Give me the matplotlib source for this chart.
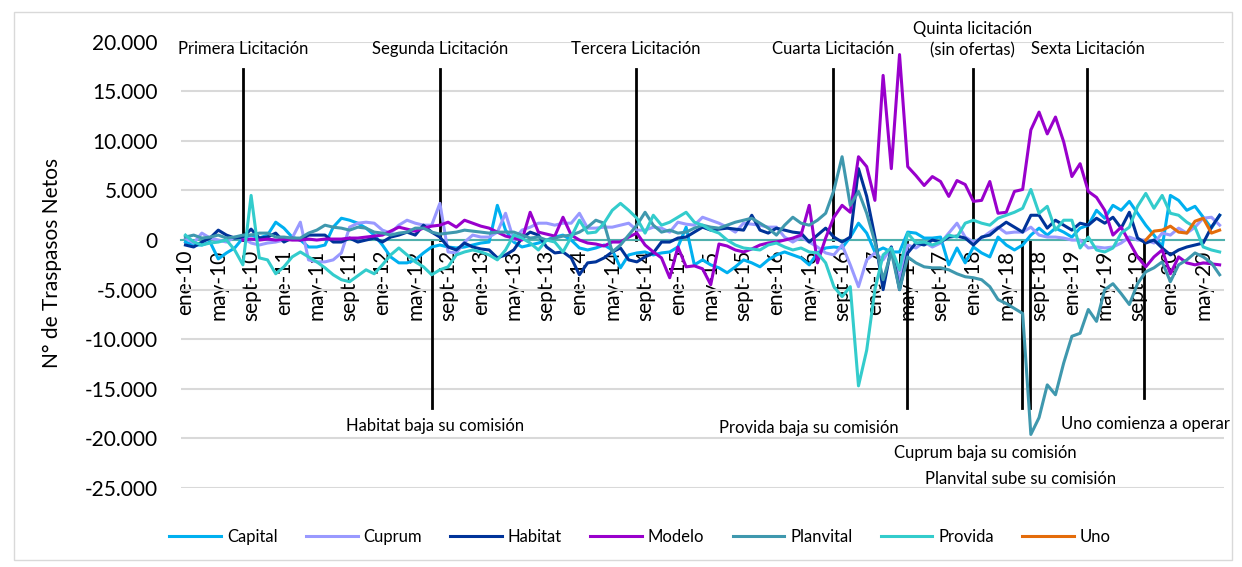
import matplotlib.pyplot as plt
import numpy as np
from matplotlib.ticker import FuncFormatter
from matplotlib.patches import Rectangle

plt.rcParams['font.family'] = ['Lato', 'DejaVu Sans']

# etiquetas del eje x (cada 4 meses, ene-10 .. jul-20 = 127 meses)
tick_labels = ['ene-10', 'may-10', 'sept-10', 'ene-11', 'may-11', 'sept-11',
               'ene-12', 'may-12', 'sept-12', 'ene-13', 'may-13', 'sept-13',
               'ene-14', 'may-14', 'sept-14', 'ene-15', 'may-15', 'sept-15',
               'ene-16', 'may-16', 'sept-16', 'ene-17', 'may-17', 'sept-17',
               'ene-18', 'may-18', 'sept-18', 'ene-19', 'may-19', 'sept-19',
               'ene-20', 'may-20']

# traspasos netos en miles
capital = [
    -0.2, -0.5, -0.5, -0.2, -1.9, -1.3, -0.8, 0.2, 0.5, 0.2,
    0.5, 1.8, 1.2, 0.3, 0.0, -0.7, -0.7, -0.5, 1.3, 2.2,
    2.0, 1.7, 1.2, 0.5, -0.5, -1.7, -2.3, -2.3, -2.0, -1.3,
    -0.7, -0.5, -0.7, -0.8, -0.7, -0.5, -0.3, -0.2, 3.5, 1.0,
    -0.2, -0.7, -0.5, -0.3, 0.0, 0.3, 0.5, 0.0, -0.8, -1.0,
    -0.8, -0.5, -1.0, -2.8, -1.5, -1.3, -1.2, -1.5, -1.3, -1.2,
    -0.7, 1.3, -2.5, -2.0, -2.5, -2.8, -3.3, -2.7, -2.0, -2.3,
    -2.7, -2.0, -1.5, -1.2, -1.5, -1.8, -2.5, -1.3, -0.8, -0.7,
    -0.8, 0.3, 1.7, 0.7, -1.2, -0.8, -1.2, -1.2, 0.8, 0.7,
    0.2, 0.2, 0.3, -2.5, -0.8, -2.3, -0.7, -1.3, -1.7, 0.3,
    -0.5, -1.0, -0.5, 0.5, 1.2, 0.5, 1.2, 0.8, 0.3, 1.2,
    1.5, 3.0, 2.2, 3.5, 3.0, 3.9, 2.7, 1.5, 0.5, -0.7,
    4.5, 4.0, 3.0, 3.4, 2.3, 1.2, 2.5]

cuprum = [
    0.2, -0.3, 0.7, 0.2, 0.0, -0.2, 0.3, 0.2, -0.3, -0.5,
    -0.3, -0.2, 0.0, 0.2, 1.8, -2.0, -2.2, -2.2, -2.0, -1.3,
    1.3, 1.7, 1.8, 1.7, 1.0, 0.7, 1.5, 2.0, 1.7, 1.5,
    1.5, 3.7, -1.2, -1.3, -0.2, 0.5, 0.3, 0.3, 0.8, 2.7,
    0.0, 1.0, 1.3, 1.7, 1.7, 1.5, 1.7, 1.7, 2.7, 1.2,
    1.2, 1.3, 1.3, 1.5, 1.7, 1.0, 1.0, 1.3, 1.2, 0.8,
    1.8, 1.6, 1.5, 2.3, 2.0, 1.7, 1.3, 0.8, 1.7, 1.6,
    1.5, 1.3, 1.3, 0.3, -0.2, 0.3, -0.2, -0.7, -1.3, -1.5,
    -0.5, -2.5, -4.7, -2.0, -1.3, -2.0, -0.7, -4.0, -0.5, -0.8,
    -0.2, -0.7, -0.3, 0.7, 1.7, 0.3, -0.2, 0.2, 0.8, 1.3,
    0.7, 0.8, 0.8, 1.3, 0.5, 0.3, 0.3, 0.2, 0.0, 0.0,
    -0.8, -0.7, -0.8, -0.7, -0.3, 0.3, 0.0, 0.0, -0.3, 0.7,
    0.5, 1.2, 0.7, 1.3, 2.2, 2.3, 1.5]

habitat = [
    -0.5, -0.7, -0.2, 0.2, 1.0, 0.5, 0.2, 0.3, 1.1, 0.2,
    0.3, 0.7, -0.2, 0.2, 0.0, 0.5, 0.5, 0.5, -0.2, -0.2,
    0.2, -0.2, 0.0, 0.2, -0.2, 0.3, 0.5, 0.8, 0.5, 1.5,
    0.8, 0.3, -0.7, -1.0, -0.3, -0.7, -0.9, -1.0, -1.8, -1.5,
    -1.0, 0.2, 0.8, 0.5, -0.7, -1.3, -1.2, -1.8, -3.5, -2.3,
    -2.2, -1.8, -1.2, -0.8, -2.0, -2.2, -1.7, -1.3, -0.2, -0.2,
    0.2, 0.3, 0.8, 1.3, 1.0, 1.1, 1.2, 1.1, 1.0, 2.5,
    1.0, 0.7, 1.2, 1.0, 0.8, 0.7, -0.2, 0.5, 1.2, 0.3,
    -0.2, 0.3, 7.2, 4.4, 0.3, -5.0, -0.7, -5.0, -1.3, -0.3,
    -0.5, 0.0, -0.2, 0.3, 0.4, 0.2, -0.5, 0.3, 0.5, 1.2,
    1.8, 1.3, 0.8, 2.5, 2.5, 1.2, 2.0, 1.5, 1.0, 1.7,
    1.5, 2.2, 1.7, 2.3, 1.2, 2.8, 0.2, -0.3, 0.0, -0.8,
    -1.5, -1.0, -0.7, -0.5, -0.3, 1.3, 2.5]

modelo = [
    None, None, None, None, None, None, None, 0.0, 0.1, 0.0,
    0.1, 0.0, 0.1, 0.0, 0.0, 0.1, 0.0, 0.1, 0.1, 0.1,
    0.2, 0.2, 0.3, 0.4, 0.5, 0.9, 1.3, 1.1, 0.9, 1.2,
    1.4, 1.5, 1.8, 1.3, 2.0, 1.7, 1.4, 1.2, 0.8, 0.4,
    0.2, 0.0, 2.8, 0.8, 0.6, 0.4, 2.3, 0.5, 0.0, -0.3,
    -0.4, -0.6, -0.2, -0.2, 0.3, 0.7, -0.5, -1.2, -1.8, -3.8,
    -0.7, -2.7, -2.6, -2.9, -4.5, -0.4, -0.6, -1.0, -1.2, -0.9,
    -0.5, -0.3, -0.2, 0.0, 0.2, 0.5, 3.5, -2.3, 0.2, 2.3,
    3.5, 2.8, 8.4, 7.4, 4.0, 16.6, 7.2, 18.7, 7.4, 6.5,
    5.5, 6.4, 5.9, 4.4, 6.0, 5.6, 3.9, 4.0, 5.9, 2.7,
    2.8, 4.9, 5.1, 11.1, 12.9, 10.7, 12.4, 9.9, 6.4, 7.7,
    4.9, 4.3, 3.0, 0.5, 1.3, -0.2, -1.7, -2.7, -1.7, -1.0,
    -3.4, -1.7, -2.3, -2.5, -2.3, -2.4, -2.5]

planvital = [
    0.3, 0.5, 0.2, 0.3, 0.5, 0.2, 0.3, 0.5, 0.5, 0.7,
    0.7, 0.3, 0.3, 0.2, 0.2, 0.7, 1.0, 1.5, 1.3, 1.2,
    1.0, 1.3, 1.2, 0.8, 0.7, 0.5, 0.7, 0.8, 1.2, 1.2,
    0.8, 0.6, 0.7, 0.8, 1.0, 0.9, 0.8, 0.7, 0.8, 0.8,
    0.8, 0.5, 0.2, 0.3, 0.0, 0.2, 0.4, 0.5, 0.8, 1.3,
    2.0, 1.7, -1.2, -0.5, 0.5, 1.5, 2.8, 1.5, 0.8, 1.0,
    0.7, 0.8, 1.2, 1.5, 1.3, 1.2, 1.5, 1.8, 2.0, 2.2,
    1.7, 1.2, 0.5, 1.5, 2.3, 1.7, 1.5, 2.0, 2.7, 5.0,
    8.4, 3.5, 4.9, 2.7, -0.2, -4.0, -1.2, -5.0, -1.7, -2.3,
    -2.7, -2.8, -2.8, -3.0, -3.4, -3.7, -3.8, -4.0, -4.7, -6.0,
    -6.4, -6.9, -7.4, -19.6, -17.9, -14.6, -15.6, -12.4, -9.7, -9.4,
    -7.0, -8.2, -5.0, -4.4, -5.4, -6.5, -4.4, -3.2, -2.8, -2.2,
    -4.2, -2.5, -2.0, -1.3, -1.7, -2.3, -3.5]

provida = [
    0.5, -0.2, -0.5, -0.3, -0.2, 0.0, -1.0, -2.5, 4.5, -1.8,
    -2.0, -3.4, -2.7, -1.7, -1.2, -1.7, -2.2, -2.8, -3.5, -4.0,
    -4.2, -3.6, -3.0, -3.4, -2.5, -1.5, -0.8, -1.5, -2.2, -2.7,
    -3.5, -3.0, -2.7, -1.5, -1.2, -1.0, -1.2, -1.5, -2.0, -1.0,
    0.5, 0.2, -0.3, -1.0, 0.0, -0.2, -1.2, 0.3, 2.0, 0.7,
    0.8, 1.7, 3.0, 3.7, 3.0, 2.2, 0.7, 2.5, 1.5, 1.8,
    2.3, 2.8, 1.8, 1.5, 1.0, 0.7, 0.0, -0.5, -0.8, -0.9,
    -1.0, -0.5, -0.3, -0.7, -1.0, -0.8, -1.2, -1.3, -2.3, -4.7,
    -5.7, -4.7, -14.7, -11.1, -5.0, -1.5, -0.8, -3.0, 0.7, -0.3,
    -0.2, -0.5, -0.2, 0.5, 0.3, 1.7, 2.0, 1.7, 1.5, 2.2,
    2.5, 2.8, 3.2, 5.1, 2.7, 3.4, 1.0, 2.0, 2.0, -0.8,
    0.3, -1.0, -1.2, -0.8, 0.7, 1.3, 3.4, 4.7, 3.2, 4.5,
    2.7, 2.5, 1.8, 1.3, -0.7, -1.0, -1.2]

uno = [None] * 117 + [0.0, 0.9, 1.0, 1.4, 0.8, 0.7, 1.9, 2.2, 0.7, 1.0]

series = ['Capital', 'Cuprum', 'Habitat', 'Modelo', 'Planvital', 'Provida', 'Uno']
valores = [capital, cuprum, habitat, modelo, planvital, provida, uno]
colores = ['#00b0f0', '#9999ff', '#003399', '#9900cc', '#3f98ae', '#33cccc', '#e46c0a']

# hitos (posicion en meses desde ene-10)
licitaciones = ['Primera Licitación', 'Segunda Licitación', 'Tercera Licitación',
                'Cuarta Licitación', 'Quinta licitación\n(sin ofertas)', 'Sexta Licitación']
lic_mes = [7.0, 31.0, 54.9, 78.9, 95.9, 109.9]

eventos = ['Habitat baja su comisión', 'Provida baja su comisión', 'Cuprum baja su comisión',
           'Planvital sube su comisión', 'Uno comienza a operar']
ev_mes = [30.0, 87.9, 101.9, 102.9, 116.8]
ev_fin = [-16.9, -16.9, -16.9, -16.9, -15.9]
ev_texto_x = [30.4, 76.0, 97.5, 101.7, 117.0]
ev_texto_y = [-18.7, -18.9, -21.5, -24.1, -18.5]

meses = np.arange(len(capital))

fig = plt.figure(figsize=(12.42, 5.67), dpi=100)
ax = fig.add_axes([0.146, 0.1393, 0.8393, 0.7872])

# el eje x cruza en 0 (antes de configurar los ticks)
for s in ['top', 'right', 'left']:
    ax.spines[s].set_visible(False)
ax.spines['bottom'].set_position(('data', 0))
ax.spines['bottom'].set_color('#4fb0ad')
ax.spines['bottom'].set_linewidth(1.5)

for nombre, vals, col in zip(series, valores, colores):
    y = np.array([np.nan if v is None else v for v in vals]) * 1000
    ax.plot(meses, y, color=col, lw=2.2, label=nombre, zorder=3)

# lineas verticales de los hitos
for m, txt in zip(lic_mes, licitaciones):
    ax.plot([m, m], [0, 17200], color='black', lw=2, zorder=2)
    if '\n' in txt:
        ax.text(m, 20200, txt, ha='center', va='center', fontsize=12,
                linespacing=1.45, clip_on=False)
    else:
        ax.text(m, 19300, txt, ha='center', va='center', fontsize=12, clip_on=False)

for m, fin, txt, tx, ty in zip(ev_mes, ev_fin, eventos, ev_texto_x, ev_texto_y):
    ax.plot([m, m], [0, fin * 1000], color='black', lw=2, zorder=2)
    ax.text(tx, ty * 1000, txt, ha='center', va='center', fontsize=12, clip_on=False)

ax.set_xlim(-0.5, len(capital) - 0.5)
ax.set_ylim(-25000, 20000)
ax.set_yticks(np.arange(-25000, 20001, 5000))
ax.yaxis.set_major_formatter(FuncFormatter(lambda v, p: f'{v:,.0f}'.replace(',', '.')))
ax.set_xticks(np.arange(0, len(capital), 4))
ax.set_xticklabels(tick_labels)
ax.tick_params(axis='y', length=0, pad=17, labelsize=15)
ax.tick_params(axis='x', length=0, pad=7, labelsize=15, labelrotation=90)

ax.yaxis.grid(True, color='#d9d9d9', lw=1.5)
ax.set_axisbelow(True)

ax.set_ylabel('N° de Traspasos Netos', fontsize=15)
ax.yaxis.set_label_coords(-0.114, 0.505)

fig.legend(loc='center', bbox_to_anchor=(640 / 1242, 1 - 537 / 567), ncol=7,
           frameon=False, fontsize=12, handlelength=3.1, handletextpad=0.35,
           columnspacing=1.7)

# marco exterior
fig.patches.append(Rectangle((14 / 1242, 7 / 567), 1218 / 1242, 548 / 567,
                             transform=fig.transFigure, fill=False,
                             edgecolor='#d9d9d9', lw=1))

fig.savefig('out.png', dpi=100)
